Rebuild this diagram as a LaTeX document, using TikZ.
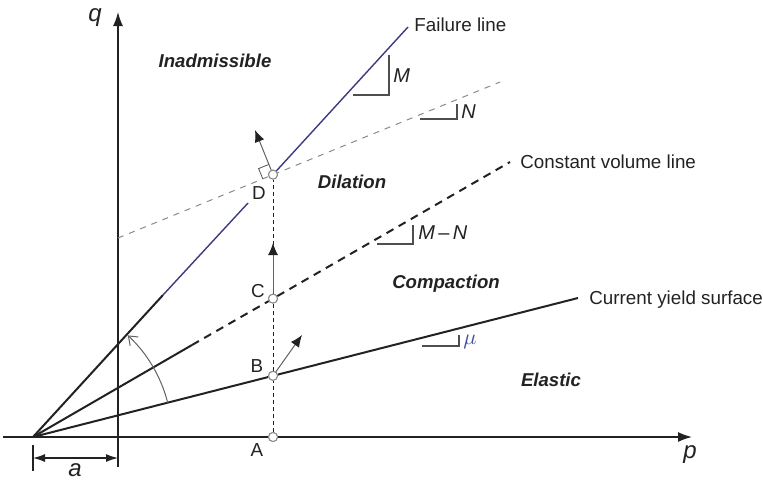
\documentclass[tikz,border=0pt]{standalone}
\usepackage{fontspec}
\setmainfont{Liberation Sans}
\usetikzlibrary{arrows.meta,calc}
\definecolor{fl}{HTML}{3C3A80}
\definecolor{ink}{HTML}{222222}
\definecolor{gry}{HTML}{8A8A8A}
\definecolor{mublue}{HTML}{4050A0}
\begin{document}
\begin{tikzpicture}[x=0.5pt,y=0.5pt,
  txt/.style={font=\fontsize{9.4}{11}\selectfont, text=ink, inner sep=0pt},
  region/.style={font=\fontsize{9.3}{11}\selectfont\bfseries\itshape, text=ink, inner sep=0pt},
  slab/.style={font=\fontsize{10}{12}\selectfont\itshape, text=ink, inner sep=0pt},
  axis/.style={line width=0.75pt, ink, -{Latex[length=7pt,width=5pt]}},
  thick line/.style={line width=1pt, ink},
  pt/.style={circle, draw=gry, fill=white, line width=0.5pt, minimum size=4.5pt, inner sep=0pt},
  flow/.style={line width=0.5pt, gry!70!black, -{Latex[length=6pt,width=5pt,fill=ink,color=ink]}},
  tri/.style={line width=0.6pt, ink!80}
]
\useasboundingbox (0,0) rectangle (763,479);
% key coordinates
\coordinate (O) at (33,42);
\coordinate (Qb) at (118,12);
\coordinate (Qt) at (118,467);
\coordinate (Pl) at (3,42);
\coordinate (Pr) at (692,42);
\coordinate (F1) at (163,184);
\coordinate (F2) at (248,276);
\coordinate (Fe) at (408,452);
\coordinate (Cv1) at (192,134);
\coordinate (Cve) at (510,317);
\coordinate (Ye) at (578,181);
\coordinate (G1) at (118,241);
\coordinate (G2) at (500,397);
% axes
\draw[axis] (Qb) -- (Qt);
\draw[axis] (Pl) -- (Pr);
\node[font=\fontsize{12}{14}\selectfont\itshape, text=ink] (q) at (95,461) {q};
\node[font=\fontsize{12}{14}\selectfont\itshape, text=ink] (p) at (690,24) {p};
% gray dashed line
\draw[gry, line width=0.5pt, dash pattern=on 3pt off 3pt] (G1) -- (G2);
% failure line
\draw[thick line] (O) -- (F1);
\draw[fl, line width=0.7pt] (F1) -- (F2);
% points
\node[pt] (A) at (273,42) {};
\node[pt] (B) at (273,103.2) {};
\node[pt] (C) at (273,180.4) {};
\node[pt] (D) at (273,304.4) {};
\draw[fl, line width=0.7pt] (D) -- (Fe);
% constant volume line
\draw[thick line] (O) -- (Cv1);
\draw[thick line, dash pattern=on 4pt off 3pt] (Cv1) -- (C) -- (Cve);
% yield surface
\draw[thick line] (O) -- (B) -- (Ye);
% vertical dashed
\draw[ink, line width=0.5pt, dash pattern=on 2pt off 1.5pt] (A) -- (B) -- (C) -- (D);
% right-angle mark at D
\draw[gry!60!black, line width=0.4pt] ($(D)+(-10.2,-4.2)$) -- ($(D)+(-10.2,-4.2)+(-4.2,10.2)$) -- ($(D)+(-4.2,10.2)$);
% redraw points on top
\node[pt] at (A) {};
\node[pt] at (B) {};
\node[pt] at (C) {};
\node[pt] at (D) {};
% flow arrows
\coordinate (Dt) at (255,349);
\coordinate (Ct) at (273,236);
\coordinate (Bt) at (302,144);
\draw[flow] (D) -- (Dt);
\draw[flow] (C.north) -- (Ct);
\draw[flow] (B) -- (Bt);
% curved arrow
\draw[gry!70!black, line width=0.5pt, -{Straight Barb[length=4pt,width=6pt]}]
  ($(O)+(14.3:139)$) arc[start angle=14.3, end angle=47.0, radius=139];
% dimension a
\coordinate (T1) at (33,34);
\coordinate (T2) at (33,8);
\draw[ink, line width=0.6pt] (T1) -- (T2);
\coordinate (Da) at (33,21);
\coordinate (Db) at (118,21);
\draw[ink, line width=0.6pt, {Latex[length=6pt,width=4pt]}-{Latex[length=6pt,width=4pt]}] (Da) -- (Db);
\node[font=\fontsize{12}{14}\selectfont\itshape, text=ink] (a) at (75,9) {a};
% slope triangles
\draw[tri] (353,384) -- (389,384) -- (389,424);
\node[slab, anchor=west] (M) at (393,403) {M};
\draw[tri] (420,360) -- (457,360) -- (457,375);
\node[slab, anchor=west] (N) at (461,367) {N};
\draw[tri] (377,235) -- (413,235) -- (413,254);
\node[slab, anchor=west] (MN) at (418,246) {M\,\textup{--}\,N};
\draw[tri] (422,133) -- (459,133) -- (459,144);
\node[anchor=west, text=mublue, font=\fontsize{11}{13}\selectfont, inner sep=0pt] (mu) at (463,137) {$\mu$};
% line labels
\node[txt, anchor=west] (fll) at (414,454) {Failure line};
\node[txt, anchor=west] (cvl) at (520,317) {Constant volume line};
\node[txt, anchor=west] (ysl) at (589,179) {Current yield surface};
% regions
\node[region] (r1) at (215,418) {Inadmissible};
\node[region] (r2) at (352,297) {Dilation};
\node[region] (r3) at (446,195) {Compaction};
\node[region] (r4) at (551,99) {Elastic};
% point labels
\node[txt] (la) at (257,29) {A};
\node[txt] (lb) at (257,113) {B};
\node[txt] (lc) at (258,188) {C};
\node[txt] (ld) at (259,286) {D};
\end{tikzpicture}
\end{document}
